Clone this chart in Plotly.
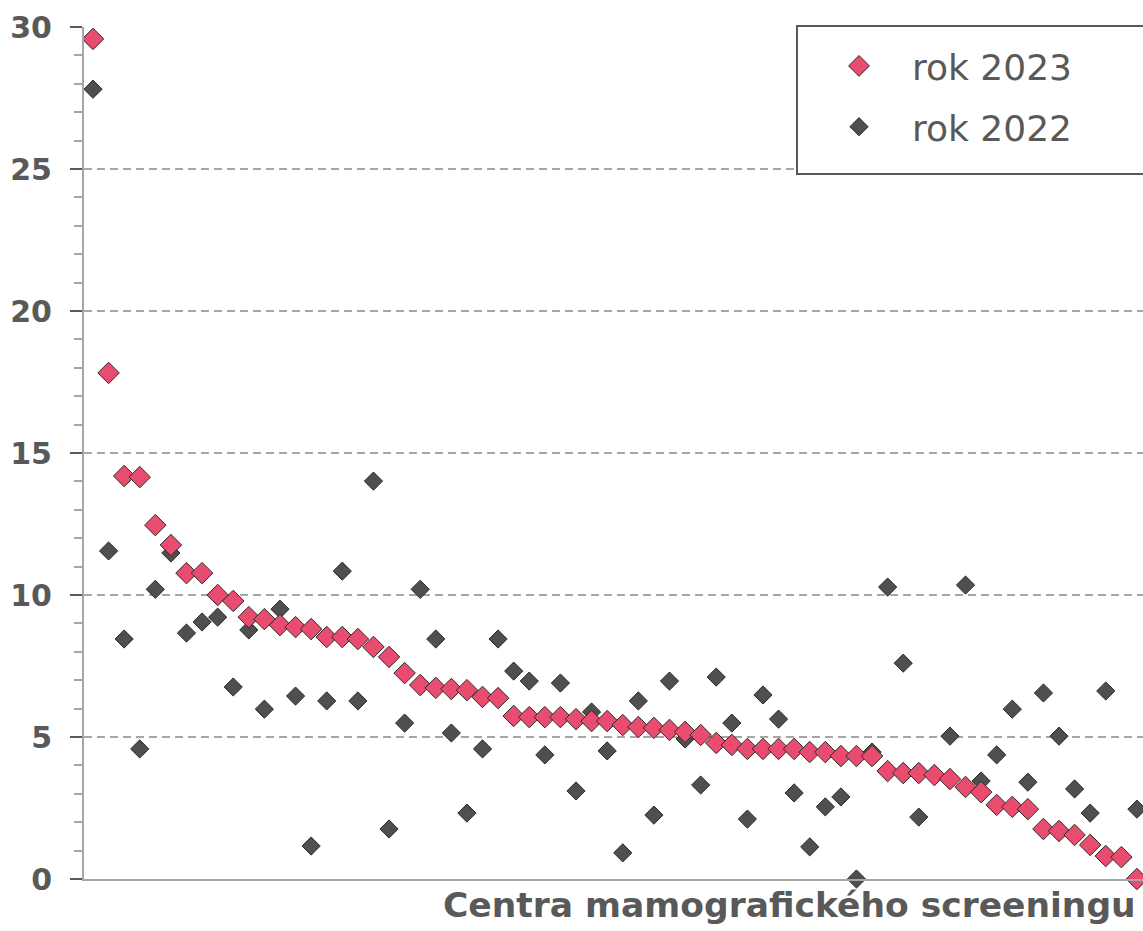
import plotly.graph_objects as go

# Centre index (1..68), ordered by 2023 value
centres = list(range(1, 69))

rok_2023 = [29.58, 17.82, 14.19, 14.15, 12.46, 11.76, 10.77, 10.77, 10.0, 9.79,
            9.22, 9.15, 8.94, 8.87, 8.80, 8.52, 8.52, 8.45, 8.17, 7.82,
            7.25, 6.83, 6.73, 6.69, 6.65, 6.41, 6.37, 5.74, 5.70, 5.70,
            5.70, 5.63, 5.56, 5.56, 5.42, 5.35, 5.32, 5.25, 5.18, 5.07,
            4.79, 4.72, 4.58, 4.58, 4.58, 4.58, 4.47, 4.47, 4.33, 4.33,
            4.33, 3.80, 3.73, 3.73, 3.66, 3.52, 3.24, 3.06, 2.61, 2.54,
            2.46, 1.76, 1.69, 1.55, 1.20, 0.81, 0.77, 0.0]

rok_2022 = [27.81, 11.55, 8.45, 4.58, 10.2, 11.48, 8.66, 9.05, 9.22, 6.76,
            8.77, 5.98, 9.5, 6.44, 1.16, 6.27, 10.84, 6.27, 14.01, 1.76,
            5.49, 10.2, 8.45, 5.14, 2.32, 4.58, 8.45, 7.32, 6.97, 4.37,
            6.90, 3.10, 5.88, 4.51, 0.92, 6.27, 2.25, 6.97, 4.93, 3.31,
            7.11, 5.49, 2.11, 6.48, 5.63, 3.03, 1.13, 2.54, 2.89, 0.0,
            4.47, 10.28, 7.6, 2.18, None, 5.03, 10.35, 3.45, 4.37, 5.98,
            3.41, 6.55, 5.03, 3.17, 2.32, 6.62, None, 2.46]

y_ticks = [0, 5, 10, 15, 20, 25, 30]

PINK = "#EA4C6F"
GREY = "#4F4F4F"
EDGE = "#2A2A2A"
TXT = "#595959"
AX = "#A6A6A6"
FONT = "DejaVu Sans"

W, H = 1143, 931
ML, MR, MT, MB = 84, 0, 27, 52
PW = W - ML - MR
PH = H - MT - MB

fig = go.Figure()
fig.add_trace(go.Scatter(
    x=centres, y=rok_2022, mode="markers", name="rok 2022",
    legendgroup="g2022", legendrank=2, cliponaxis=False,
    marker=dict(symbol="diamond", size=14, color=GREY,
                line=dict(color=EDGE, width=1)),
))
fig.add_trace(go.Scatter(
    x=centres, y=rok_2023, mode="markers", name="rok 2023",
    legendgroup="g2023", legendrank=1, cliponaxis=False,
    marker=dict(symbol="diamond", size=16.5, color=PINK,
                line=dict(color=EDGE, width=1)),
))

def px_x(p):
    return (p - ML) / PW

def px_y(p):
    return (H - MB - p) / PH

fig.update_layout(
    width=W, height=H,
    margin=dict(l=ML, r=MR, t=MT, b=MB, pad=0),
    paper_bgcolor="white", plot_bgcolor="white",
    font=dict(family=FONT, color=TXT),
    showlegend=True,
    legend=dict(
        x=px_x(806), y=px_y(36), xanchor="left", yanchor="top",
        bgcolor="rgba(0,0,0,0)", borderwidth=0,
        font=dict(size=36, color=TXT, family=FONT),
        traceorder="grouped", tracegroupgap=11,
        itemwidth=96,
    ),
    xaxis=dict(
        range=[0.4224, 68.39], showgrid=False, zeroline=False,
        showticklabels=False, ticks="", showline=True,
        linecolor=AX, linewidth=2, fixedrange=True,
    ),
    yaxis=dict(
        range=[0, 30], tickvals=y_ticks, ticktext=[str(v) for v in y_ticks],
        showgrid=True, gridcolor=AX, gridwidth=2, griddash="8px,5px",
        zeroline=False, showline=True, linecolor=AX, linewidth=2,
        ticks="outside", ticklen=12, tickwidth=2, tickcolor="#595959",
        ticklabelstandoff=12, fixedrange=True,
        tickfont=dict(size=30, color=TXT, family=FONT, weight="bold"),
        minor=dict(dtick=1, ticks="outside", ticklen=8, tickwidth=2,
                   tickcolor=AX, showgrid=False),
    ),
    shapes=[dict(
        type="rect", xref="paper", yref="paper",
        x0=px_x(797), x1=1.05, y0=px_y(174), y1=px_y(26),
        line=dict(color="#595959", width=2), fillcolor="white", layer="above",
    )],
    annotations=[dict(
        text="<b>Centra mamografického screeningu</b>",
        xref="paper", yref="paper", x=px_x(441), y=px_y(905),
        xanchor="left", yanchor="middle", showarrow=False,
        font=dict(size=34.5, color=TXT, family=FONT),
    )],
)

fig.write_html("out.html", config={"displayModeBar": False},
               post_script="document.body.style.margin='0';")
